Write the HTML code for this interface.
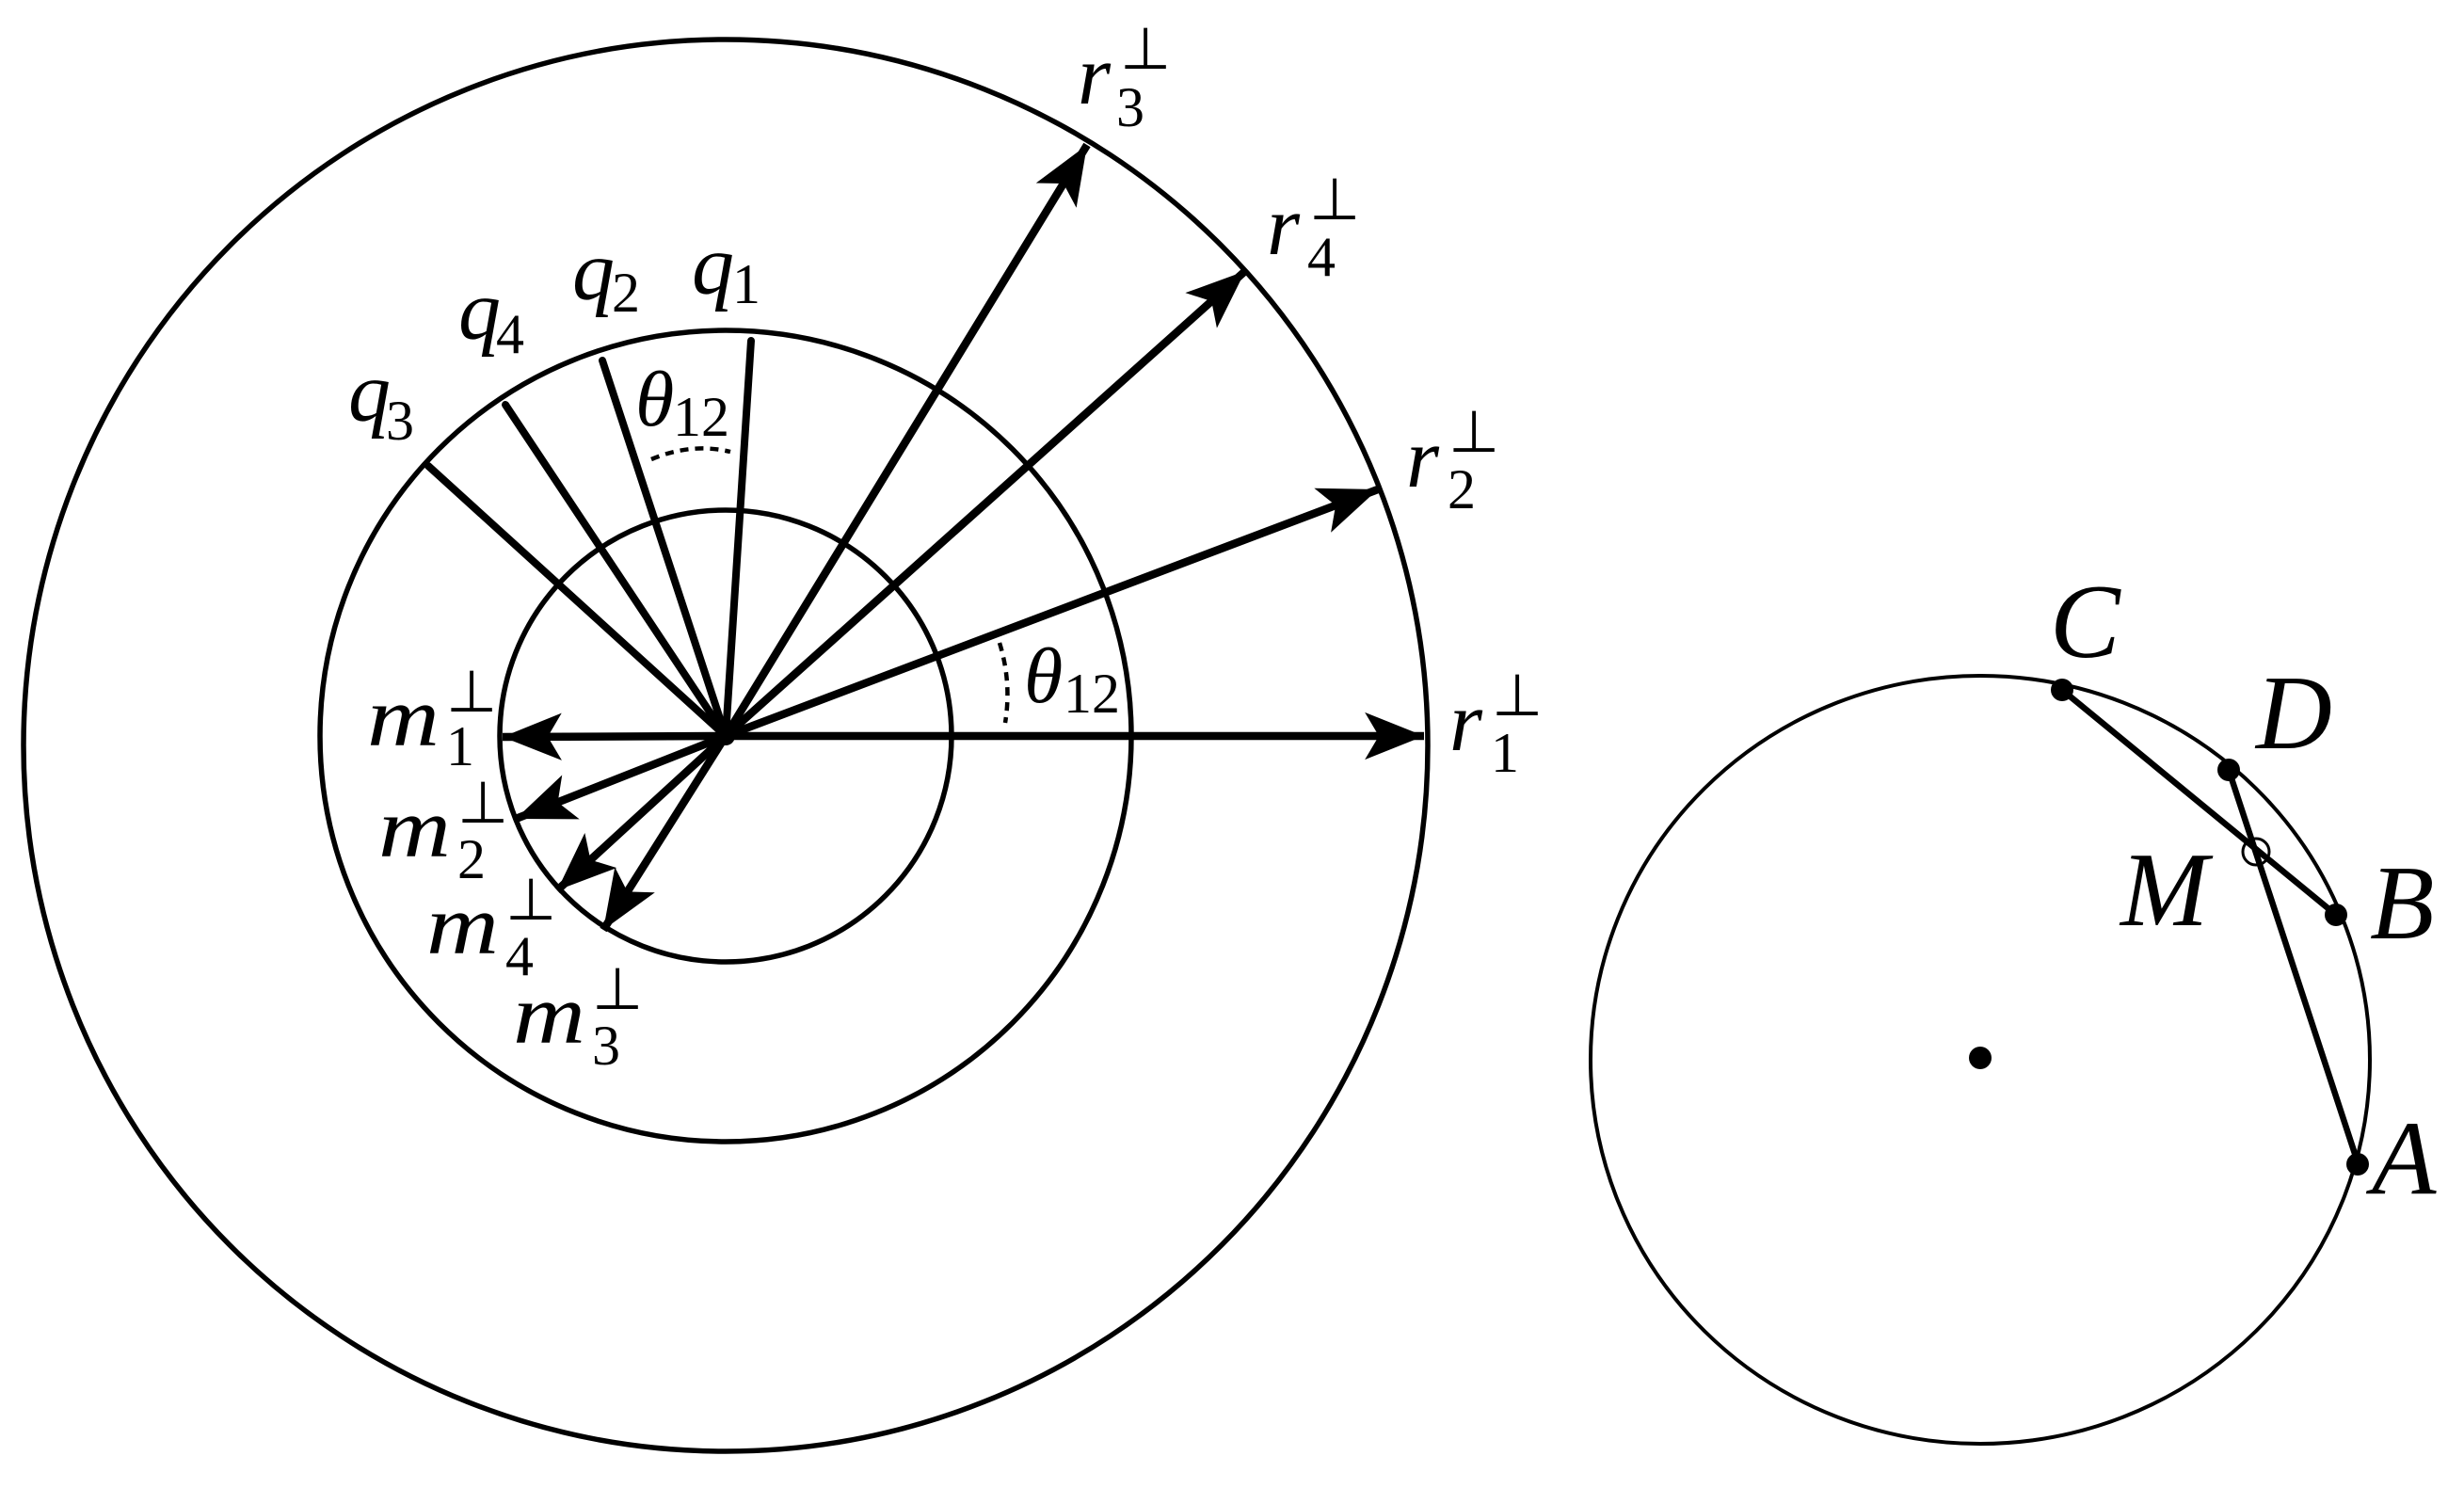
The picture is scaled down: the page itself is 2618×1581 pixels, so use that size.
<!DOCTYPE html>
<html><head><meta charset="utf-8"><style>
html,body{margin:0;padding:0;background:#fff;}
svg{display:block;}
.L{font-family:"Liberation Serif",serif;font-style:italic;font-size:90px;}
.D{font-family:"Liberation Serif",serif;font-size:60px;}
.P{font-family:"DejaVu Sans",sans-serif;font-size:62px;}
.B{font-family:"Liberation Serif",serif;font-style:italic;font-size:112px;}
</style></head><body>
<svg width="2618" height="1581" viewBox="0 0 2618 1581" xmlns="http://www.w3.org/2000/svg">
<defs>
<marker id="ah" markerUnits="userSpaceOnUse" markerWidth="80" markerHeight="80" refX="0" refY="0" viewBox="-60 -30 70 60" orient="auto">
<path d="M0,0 L-55,-22 L-42,0 L-55,22 Z" fill="#000"/>
</marker>
</defs>
<g fill="none" stroke="#000">
<ellipse cx="771" cy="792" rx="746" ry="750" stroke-width="5.5"/>
<circle cx="771" cy="782" r="431" stroke-width="5.5"/>
<circle cx="771" cy="782" r="240" stroke-width="5.5"/>
<g stroke-width="8" stroke-linecap="round">
<line x1="771" y1="782" x2="798" y2="362"/>
<line x1="771" y1="782" x2="640" y2="383"/>
<line x1="771" y1="782" x2="537" y2="430"/>
<line x1="771" y1="782" x2="455" y2="495"/>
</g>
<g stroke-width="8.5" marker-end="url(#ah)">
<line x1="771" y1="782" x2="1155" y2="154"/>
<line x1="771" y1="782" x2="1323" y2="288"/>
<line x1="771" y1="782" x2="1464" y2="520"/>
<line x1="771" y1="782" x2="1513" y2="782"/>
<line x1="771" y1="782" x2="534" y2="783"/>
<line x1="771" y1="782" x2="548" y2="870"/>
<line x1="771" y1="782" x2="592" y2="946"/>
<line x1="771" y1="782" x2="641" y2="988"/>
</g>
<path d="M692,488 Q735,470 776,480" stroke-width="4.5" stroke-dasharray="9,7"/>
<path d="M1062,683 Q1075,725 1068,768" stroke-width="4.5" stroke-dasharray="9,7"/>
</g>
<circle cx="771" cy="782" r="10" fill="#000"/>
<text class="L" x="735" y="312">q</text><text class="D" x="778" y="322">1</text>
<text class="L" x="608" y="318">q</text><text class="D" x="650" y="331">2</text>
<text class="L" x="487" y="360">q</text><text class="D" x="527" y="375">4</text>
<text class="L" x="370" y="447">q</text><text class="D" x="410" y="467">3</text>
<text class="L" x="675" y="452" style="font-size:84px">θ</text><text class="D" x="715" y="463">12</text>
<text class="L" x="1088" y="746" style="font-size:84px">θ</text><text class="D" x="1130" y="757">12</text>
<text class="L" x="1145" y="110">r</text><text class="P" x="1190" y="73">⊥</text><text class="D" x="1186" y="134">3</text>
<text class="L" x="1346" y="270">r</text><text class="P" x="1391" y="233">⊥</text><text class="D" x="1389" y="293">4</text>
<text class="L" x="1494" y="517">r</text><text class="P" x="1539" y="480">⊥</text><text class="D" x="1538" y="540">2</text>
<text class="L" x="1540" y="797">r</text><text class="P" x="1585" y="760">⊥</text><text class="D" x="1584" y="820">1</text>
<text class="L" x="390" y="792" textLength="77" lengthAdjust="spacingAndGlyphs">m</text><text class="P" x="474" y="756">⊥</text><text class="D" x="474" y="813">1</text>
<text class="L" x="402" y="910" textLength="77" lengthAdjust="spacingAndGlyphs">m</text><text class="P" x="486" y="874">⊥</text><text class="D" x="486" y="933">2</text>
<text class="L" x="453" y="1013" textLength="77" lengthAdjust="spacingAndGlyphs">m</text><text class="P" x="537" y="977">⊥</text><text class="D" x="537" y="1036">4</text>
<text class="L" x="545" y="1108" textLength="77" lengthAdjust="spacingAndGlyphs">m</text><text class="P" x="629" y="1072">⊥</text><text class="D" x="629" y="1131">3</text>
<ellipse cx="2104" cy="1126" rx="414" ry="408" fill="none" stroke="#000" stroke-width="4"/>
<line x1="2191" y1="733" x2="2482" y2="972" stroke="#000" stroke-width="6.5"/>
<line x1="2368" y1="818" x2="2505" y2="1235" stroke="#000" stroke-width="6.5"/>
<circle cx="2104" cy="1124" r="12" fill="#000"/>
<circle cx="2191" cy="733" r="12" fill="#000"/>
<circle cx="2368" cy="818" r="12" fill="#000"/>
<circle cx="2482" cy="972" r="12" fill="#000"/>
<circle cx="2505" cy="1237" r="12" fill="#000"/>
<circle cx="2397" cy="905" r="14" fill="none" stroke="#000" stroke-width="3"/>
<text class="B" x="2178" y="698">C</text>
<text class="B" x="2397" y="795">D</text>
<text class="B" x="2253" y="983">M</text>
<text class="B" x="2518" y="997">B</text>
<text class="B" x="2520" y="1268">A</text>
</svg>
</body></html>
